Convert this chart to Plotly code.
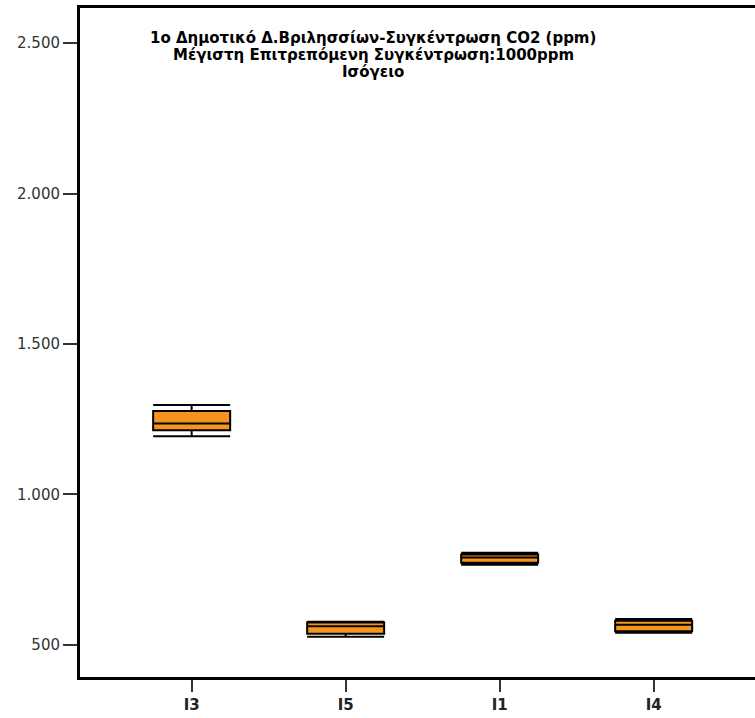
import plotly.graph_objects as go

categories = ["I3", "I5", "I1", "I4"]
lower_fence = [1193, 527, 766, 540]
q1_vals = [1213, 537, 773, 545]
median_vals = [1236, 562, 790, 567]
q3_vals = [1277, 574, 800, 580]
upper_fence = [1297, 577, 806, 586]
y_ticks = [500, 1000, 1500, 2000, 2500]

title_lines = [
    "1ο Δημοτικό Δ.Βριλησσίων-Συγκέντρωση CO2 (ppm)",
    "Μέγιστη Επιτρεπόμενη Συγκέντρωση:1000ppm",
    "Ισόγειο",
]

FIG_W = 775
fig = go.Figure()
fig.add_trace(go.Box(
    x=categories,
    q1=q1_vals, median=median_vals, q3=q3_vals,
    lowerfence=lower_fence, upperfence=upper_fence,
    fillcolor="#F7941D",
    line=dict(color="#000000", width=2),
    whiskerwidth=1,
    width=0.5,
    boxpoints=False,
    showlegend=False,
    hoverinfo="skip",
))

plot_w = FIG_W - 80
title_font = dict(size=15, color="black", family="DejaVu Sans, Liberation Sans, sans-serif", weight="bold")
title_y_px = [38.5, 55.5, 72.5]
annotations = []
for line, ypx in zip(title_lines, title_y_px):
    annotations.append(dict(
        text=line,
        x=(373 - 80) / plot_w, y=1 - (ypx - 8) / 669,
        xref="paper", yref="paper",
        xanchor="center", yanchor="middle",
        showarrow=False,
        font=title_font,
    ))

fig.update_layout(
    width=FIG_W, height=718,
    margin=dict(l=80, r=0, t=8, b=41, autoexpand=False),
    paper_bgcolor="white",
    plot_bgcolor="white",
    separators=",.",
    font=dict(family="Liberation Sans, Arial, sans-serif"),
    annotations=annotations,
)

fig.update_xaxes(
    type="category",
    range=[-0.725, -0.725 + plot_w / 154],
    automargin=False,
    showline=True, linecolor="black", linewidth=3, mirror=True,
    ticks="outside", ticklen=12, tickwidth=2, tickcolor="#333333",
    tickfont=dict(size=15, color="#222222", family="DejaVu Sans, Liberation Sans, sans-serif", weight="bold"),
    showgrid=False, zeroline=False,
)
fig.update_yaxes(
    range=[393, 2617],
    tickvals=y_ticks,
    tickformat=",d",
    automargin=False,
    showline=True, linecolor="black", linewidth=3, mirror=False,
    ticks="outside", ticklen=14, tickwidth=2, tickcolor="#333333",
    tickfont=dict(size=15, color="#333333", family="DejaVu Sans, Liberation Sans, sans-serif"),
    showgrid=False, zeroline=False,
)

fig.write_html(
    "out.html",
    config={"displayModeBar": False},
    post_script="document.body.style.margin='0';document.body.style.overflow='hidden';",
)
